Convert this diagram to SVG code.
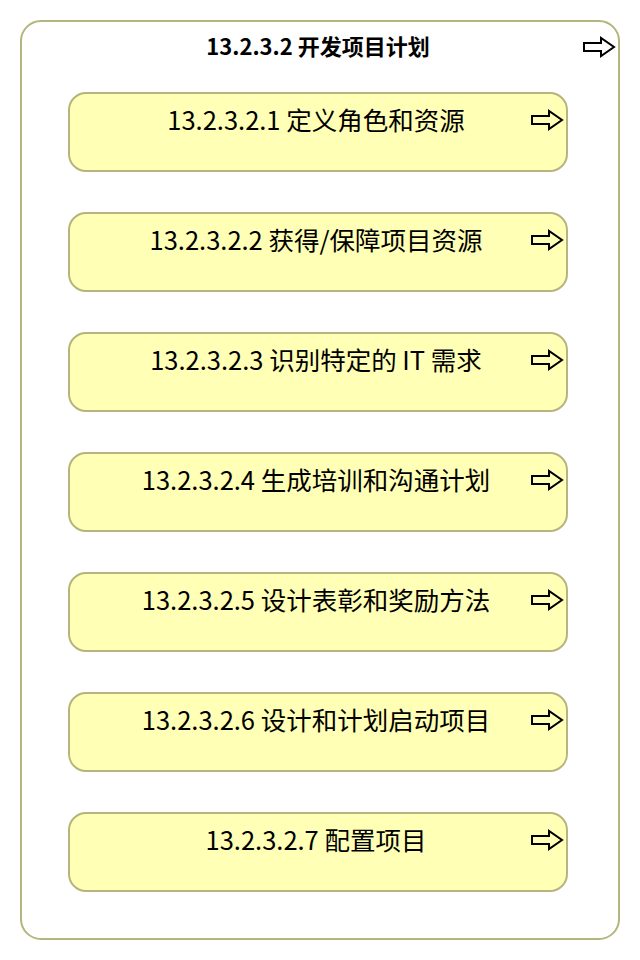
<svg xmlns="http://www.w3.org/2000/svg" width="640" height="960" viewBox="0 0 640 960">
<defs>
<style>
.outer{fill:#ffffff;stroke:#b5b57d;stroke-width:2}
.box{fill:#ffffb5;stroke:#b5b57d;stroke-width:2}
.t{font-family:"Noto Sans CJK SC","Noto Sans",sans-serif;font-size:25.5px;fill:#000;text-anchor:middle}
.title{font-family:"Noto Sans CJK SC","Noto Sans",sans-serif;font-size:22px;font-weight:bold;fill:#000;text-anchor:middle}
.arr{fill:none;stroke:#000;stroke-width:2;stroke-linejoin:miter}
</style>
<path id="arrow" class="arr" d="M0,5 L17,5 L17,0 L30,9 L17,18 L17,13 L0,13 Z"/>
</defs>
<g id="n0">
<rect class="outer" x="21" y="21" width="598" height="918" rx="20"/>
<text class="title" x="318" y="55">13.2.3.2 开发项目计划</text>
<use href="#arrow" x="584" y="38"/>
</g>
<g id="connectors"></g>
<g id="n1">
<rect class="box" x="69" y="93" width="498" height="78" rx="17"/>
<text class="t" x="316" y="130">13.2.3.2.1 定义角色和资源</text>
<use href="#arrow" x="532" y="111"/>
</g>
<g id="n2">
<rect class="box" x="69" y="213" width="498" height="78" rx="17"/>
<text class="t" x="316" y="250">13.2.3.2.2 获得/保障项目资源</text>
<use href="#arrow" x="532" y="231"/>
</g>
<g id="n3">
<rect class="box" x="69" y="333" width="498" height="78" rx="17"/>
<text class="t" x="316" y="370">13.2.3.2.3 识别特定的 IT 需求</text>
<use href="#arrow" x="532" y="351"/>
</g>
<g id="n4">
<rect class="box" x="69" y="453" width="498" height="78" rx="17"/>
<text class="t" x="316" y="490">13.2.3.2.4 生成培训和沟通计划</text>
<use href="#arrow" x="532" y="471"/>
</g>
<g id="n5">
<rect class="box" x="69" y="573" width="498" height="78" rx="17"/>
<text class="t" x="316" y="610">13.2.3.2.5 设计表彰和奖励方法</text>
<use href="#arrow" x="532" y="591"/>
</g>
<g id="n6">
<rect class="box" x="69" y="693" width="498" height="78" rx="17"/>
<text class="t" x="316" y="730">13.2.3.2.6 设计和计划启动项目</text>
<use href="#arrow" x="532" y="711"/>
</g>
<g id="n7">
<rect class="box" x="69" y="813" width="498" height="78" rx="17"/>
<text class="t" x="316" y="850">13.2.3.2.7 配置项目</text>
<use href="#arrow" x="532" y="831"/>
</g>
</svg>
